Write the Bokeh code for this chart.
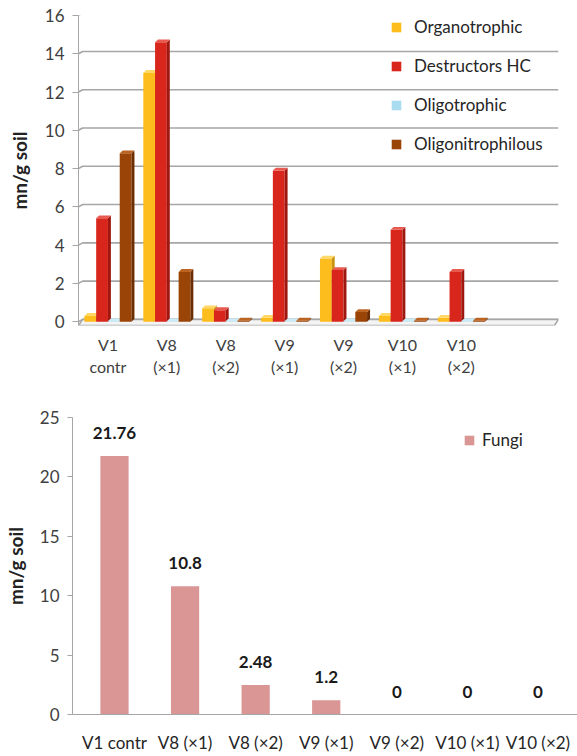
from bokeh.plotting import figure
from bokeh.models import ColumnDataSource, Range1d, FixedTicker, Legend, LegendItem, LabelSet
from bokeh.core.properties import value
from bokeh.embed import file_html
from bokeh.resources import INLINE

# ---------------- data ----------------
categories_top = ["V1\ncontr", "V8\n(×1)", "V8\n(×2)", "V9\n(×1)", "V9\n(×2)", "V10\n(×1)", "V10\n(×2)"]
organotrophic = [0.3, 13.0, 0.7, 0.2, 3.3, 0.3, 0.2]
destructors_hc = [5.4, 14.6, 0.6, 7.9, 2.7, 4.8, 2.6]
oligotrophic = [0.02, 0.02, 0.02, 0.02, 0.02, 0.02, 0.02]
oligonitrophilous = [8.8, 2.6, 0.05, 0.05, 0.5, 0.05, 0.05]
series_names = ["Organotrophic", "Destructors HC", "Oligotrophic", "Oligonitrophilous"]
y_ticks_top = [0, 2, 4, 6, 8, 10, 12, 14, 16]

categories_bottom = ["V1 contr", "V8 (×1)", "V8 (×2)", "V9 (×1)", "V9 (×2)", "V10 (×1)", "V10 (×2)"]
fungi = [21.76, 10.8, 2.48, 1.2, 0, 0, 0]
fungi_labels = ["21.76", "10.8", "2.48", "1.2", "0", "0", "0"]
y_ticks_bottom = [0, 5, 10, 15, 20, 25]

FONT = "Lato"
TXT = "#404040"

# ---------------- top chart ----------------
top = figure(width=577, height=386, output_backend="svg", toolbar_location=None,
             x_range=Range1d(-0.5, 7.65), y_range=Range1d(-0.2, 16),
             min_border_left=78, min_border_right=19, min_border_top=15, min_border_bottom=61)
top.outline_line_color = None
top.xgrid.grid_line_color = None
top.ygrid.grid_line_color = None

# back-wall gridlines with a small perspective step
dx3, dy3 = 0.07, 0.12
x_end = 7.65
gxs = [[-0.5, -0.5 + dx3, x_end] for t in y_ticks_top]
gys = [[t, t + dy3, t + dy3] for t in y_ticks_top]
top.multi_line(xs=gxs, ys=gys, line_color="#a6a6a6", line_width=1.6)

# floor
top.patch(x=[-0.5, -0.5 + dx3, x_end, x_end - dx3], y=[-0.2, dy3, dy3, -0.2],
          fill_color="#f4f4f4", line_color="#a6a6a6", line_width=1.5)

colors = {
    "Organotrophic": ("#FDBD1D", "#C89410", "#FFD865"),
    "Destructors HC": ("#D9261C", "#9E1810", "#E85A50"),
    "Oligotrophic": ("#A8DCEE", "#7DB7CB", "#CBEBF6"),
    "Oligonitrophilous": ("#9B4407", "#6B2E03", "#BC6523"),
}
values = [organotrophic, destructors_hc, oligotrophic, oligonitrophilous]
offsets = [-0.3, -0.1, 0.1, 0.3]
w = 0.2
dd, ddy = 0.05, 0.15
legend_items = []
xs_idx = list(range(len(categories_top)))
for name, vals, off in zip(series_names, values, offsets):
    front, side, topc = colors[name]
    xc = [i + off for i in xs_idx]
    r = top.vbar(x=xc, top=vals, bottom=0, width=w, fill_color=front, line_color=None)
    sx = [[x + w / 2, x + w / 2 + dd, x + w / 2 + dd, x + w / 2] for x in xc]
    sy = [[0, ddy, v + ddy, v] for v in vals]
    top.patches(xs=sx, ys=sy, fill_color=side, line_color=None)
    tx = [[x - w / 2, x + w / 2, x + w / 2 + dd, x - w / 2 + dd] for x in xc]
    ty = [[v, v, v + ddy, v + ddy] for v in vals]
    top.patches(xs=tx, ys=ty, fill_color=topc, line_color=None)
    legend_items.append(LegendItem(label=name, renderers=[r]))

top.yaxis.ticker = FixedTicker(ticks=y_ticks_top)
top.yaxis.minor_tick_line_color = None
top.yaxis.axis_line_color = "#a6a6a6"
top.yaxis.major_tick_line_color = "#a6a6a6"
top.yaxis.major_tick_out = 6
top.yaxis.major_tick_in = 0
top.yaxis.major_label_standoff = 8
top.yaxis.major_label_text_font = FONT
top.yaxis.major_label_text_font_size = "17px"
top.yaxis.major_label_text_color = TXT
top.yaxis.axis_label = "mn/g soil"
top.yaxis.axis_label_text_font = FONT
top.yaxis.axis_label_text_font_size = "19px"
top.yaxis.axis_label_text_font_style = "bold"
top.yaxis.axis_label_text_color = "#222222"
top.yaxis.axis_label_standoff = 11

top.xaxis.ticker = FixedTicker(ticks=xs_idx)
top.xaxis.major_label_overrides = {i: c for i, c in enumerate(categories_top)}
top.xaxis.axis_line_color = None
top.xaxis.major_tick_line_color = None
top.xaxis.minor_tick_line_color = None
top.xaxis.major_label_text_font = FONT
top.xaxis.major_label_text_font_size = "16px"
top.xaxis.major_label_text_color = TXT
top.xaxis.major_label_standoff = 3

leg = Legend(items=legend_items, location=(312, 171), orientation="vertical",
             glyph_width=12, glyph_height=12, label_height=12, spacing=18,
             label_standoff=12, padding=0, margin=0,
             border_line_color=None, background_fill_alpha=0,
             label_text_font=FONT, label_text_font_size="17px", label_text_color="#262626")
top.add_layout(leg)

# ---------------- bottom chart ----------------
bot = figure(width=577, height=369, output_backend="svg", toolbar_location=None,
             x_range=Range1d(-0.595, 6.56), y_range=Range1d(0, 25),
             min_border_left=72, min_border_right=0, min_border_top=31, min_border_bottom=40)
bot.outline_line_color = None
bot.xgrid.grid_line_color = None
bot.ygrid.grid_line_color = None

src = ColumnDataSource(dict(x=list(range(len(categories_bottom))), y=fungi, lab=fungi_labels))
rf = bot.vbar(x="x", top="y", width=0.4, source=src, fill_color="#D99694", line_color=None)
labels = LabelSet(x="x", y="y", text="lab", source=src, text_align="center", text_baseline="bottom",
                  y_offset=17, text_font=value(FONT), text_font_size=value("17px"),
                  text_font_style=value("bold"), text_color=value("#1a1a1a"))
bot.add_layout(labels)

bot.yaxis.ticker = FixedTicker(ticks=y_ticks_bottom)
bot.yaxis.minor_tick_line_color = None
bot.yaxis.axis_line_color = "#a6a6a6"
bot.yaxis.major_tick_line_color = "#a6a6a6"
bot.yaxis.major_tick_out = 5
bot.yaxis.major_tick_in = 0
bot.yaxis.major_label_standoff = 8
bot.yaxis.major_label_text_font = FONT
bot.yaxis.major_label_text_font_size = "17px"
bot.yaxis.major_label_text_color = TXT
bot.yaxis.axis_label = "mn/g soil"
bot.yaxis.axis_label_text_font = FONT
bot.yaxis.axis_label_text_font_size = "19px"
bot.yaxis.axis_label_text_font_style = "bold"
bot.yaxis.axis_label_text_color = "#222222"
bot.yaxis.axis_label_standoff = 10

bot.xaxis.ticker = FixedTicker(ticks=list(range(len(categories_bottom))))
bot.xaxis.major_label_overrides = {i: c for i, c in enumerate(categories_bottom)}
bot.xaxis.axis_line_color = "#a6a6a6"
bot.xaxis.major_tick_line_color = None
bot.xaxis.minor_tick_line_color = None
bot.xaxis.major_label_text_font = FONT
bot.xaxis.major_label_text_font_size = "17px"
bot.xaxis.major_label_text_color = "#262626"
bot.xaxis.major_label_standoff = 11

leg2 = Legend(items=[LegendItem(label="Fungi", renderers=[rf])], location=(391, 264),
              glyph_width=12, glyph_height=12, label_height=12, label_standoff=7,
              padding=0, margin=0, border_line_color=None, background_fill_alpha=0,
              label_text_font=FONT, label_text_font_size="17px", label_text_color="#262626")
bot.add_layout(leg2)

open("out.html", "w").write(file_html([top, bot], INLINE))
